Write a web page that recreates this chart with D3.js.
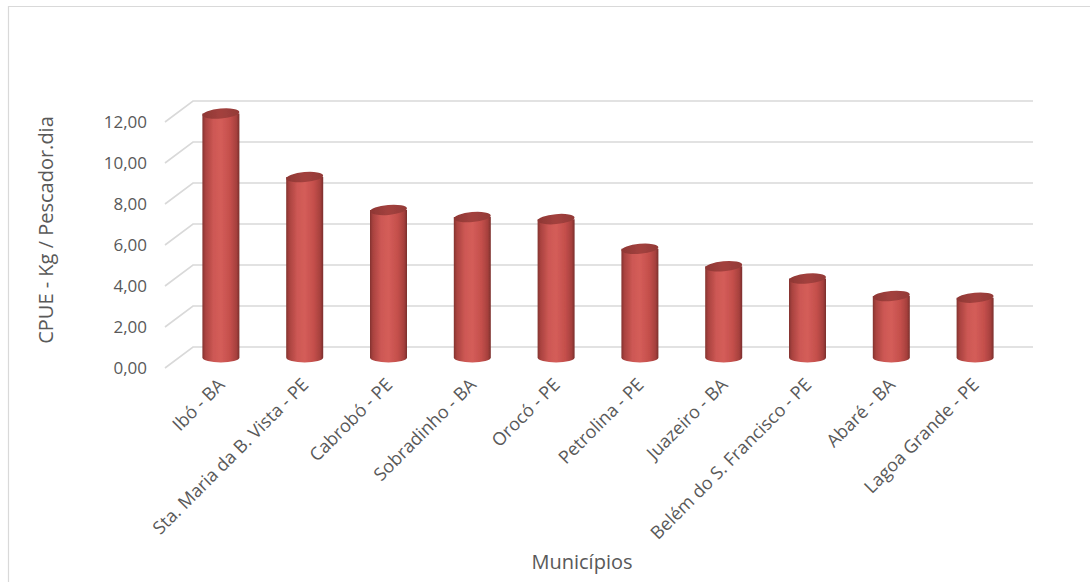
<!DOCTYPE html>
<html>
<head>
<meta charset="utf-8">
<script src="https://cdn.jsdelivr.net/npm/d3@7"></script>
<style>
  html, body { margin: 0; padding: 0; background: #fff; }
  svg { display: block; }
  text { font-family: "Open Sans", "Noto Sans", sans-serif; fill: #595959; }
</style>
</head>
<body>
<svg id="chart" width="1090" height="582"></svg>
<script>
// CPUE per municipality (kg / fisher / day)
const categories = [
  "Ibó - BA",
  "Sta. Maria da B. Vista - PE",
  "Cabrobó - PE",
  "Sobradinho - BA",
  "Orocó - PE",
  "Petrolina - PE",
  "Juazeiro - BA",
  "Belém do S. Francisco - PE",
  "Abaré - BA",
  "Lagoa Grande - PE"
];
const values = [11.9, 8.8, 7.2, 6.85, 6.75, 5.3, 4.45, 3.85, 3.0, 2.92];
const yTicks = [0, 2, 4, 6, 8, 10, 12];
const yTitle = "CPUE - Kg / Pescador.dia";
const xTitle = "Municípios";

const svg = d3.select("#chart");

// pseudo-3D geometry: front axis plane, back wall, bars standing mid-depth
const floorFront = 368, depthX = 28, depthY = -21;
const frontX = 165, wallRight = 1033;
const h = d3.scaleLinear().domain([0, 12]).range([0, 246]);
const yFront = v => floorFront - h(v);
const yBack = v => yFront(v) + depthY;
const yMid = v => yFront(v) + depthY / 2;

const x = d3.scalePoint().domain(categories).range([179, 1017]).padding(0.5);
const barW = 37;

// outer frame
svg.append("path")
  .attr("d", "M8.5,582 L8.5,6.5 L1090,6.5")
  .attr("fill", "none").attr("stroke", "#d9d9d9").attr("stroke-width", 1.2);

// gridlines: slanted side segment, then across the back wall
svg.append("g").selectAll("path").data(yTicks).join("path")
  .attr("d", v => `M${frontX},${yFront(v)} L${frontX + depthX},${yBack(v)} L${wallRight},${yBack(v)}`)
  .attr("fill", "none").attr("stroke", "#d9d9d9").attr("stroke-width", 1.6);

// y tick labels
const fmt = v => d3.format(".2f")(v).replace(".", ",");
svg.append("g").selectAll("text").data(yTicks).join("text")
  .attr("x", 147).attr("y", v => yFront(v))
  .attr("dy", "0.35em")
  .attr("text-anchor", "end")
  .attr("font-size", 17)
  .text(fmt);

// cylinder shading
const defs = svg.append("defs");
const sideGrad = defs.append("linearGradient").attr("id", "cylSide")
  .attr("x1", "0").attr("x2", "1").attr("y1", "0").attr("y2", "0");
[[0, "#83332f"], [0.08, "#a9423f"], [0.3, "#cd5854"], [0.5, "#d45d59"], [0.75, "#c44f4b"], [0.92, "#a6403d"], [1, "#7a2f2c"]]
  .forEach(([o, c]) => sideGrad.append("stop").attr("offset", o).attr("stop-color", c));
const capGrad = defs.append("linearGradient").attr("id", "cylTop")
  .attr("x1", "0").attr("x2", "1").attr("y1", "0").attr("y2", "0");
[[0, "#8e3734"], [0.5, "#a3413e"], [1, "#933a37"]]
  .forEach(([o, c]) => capGrad.append("stop").attr("offset", o).attr("stop-color", c));
defs.append("filter").attr("id", "soft").append("feGaussianBlur").attr("stdDeviation", 0.5);

const ry = 5, tilt = -5;
const bars = svg.append("g").selectAll("g").data(categories).join("g")
  .attr("filter", "url(#soft)");

// body + rounded bottom
bars.append("path")
  .attr("d", (c, i) => {
    const cx = x(c), yt = yMid(values[i]), yb = yMid(0);
    const l = cx - barW / 2, r = cx + barW / 2;
    return `M${l},${yt} L${l},${yb} A${barW / 2},${ry} 0 0 0 ${r},${yb} L${r},${yt} Z`;
  })
  .attr("fill", "url(#cylSide)");

// top cap
bars.append("ellipse")
  .attr("cx", c => x(c))
  .attr("cy", (c, i) => yMid(values[i]))
  .attr("rx", barW / 2).attr("ry", ry)
  .attr("transform", (c, i) => `rotate(${tilt},${x(c)},${yMid(values[i])})`)
  .attr("fill", "url(#cylTop)");

// category labels, rotated
svg.append("g").selectAll("text").data(categories).join("text")
  .attr("transform", c => `translate(${x(c) + 5},${386}) rotate(-45)`)
  .attr("text-anchor", "end")
  .attr("font-size", 18)
  .text(c => c);

// axis titles
svg.append("text")
  .attr("transform", "translate(53,230) rotate(-90)")
  .attr("text-anchor", "middle")
  .attr("font-size", 20)
  .text(yTitle);

svg.append("text")
  .attr("x", 582).attr("y", 569)
  .attr("text-anchor", "middle")
  .attr("font-size", 20)
  .text(xTitle);
</script>
</body>
</html>
